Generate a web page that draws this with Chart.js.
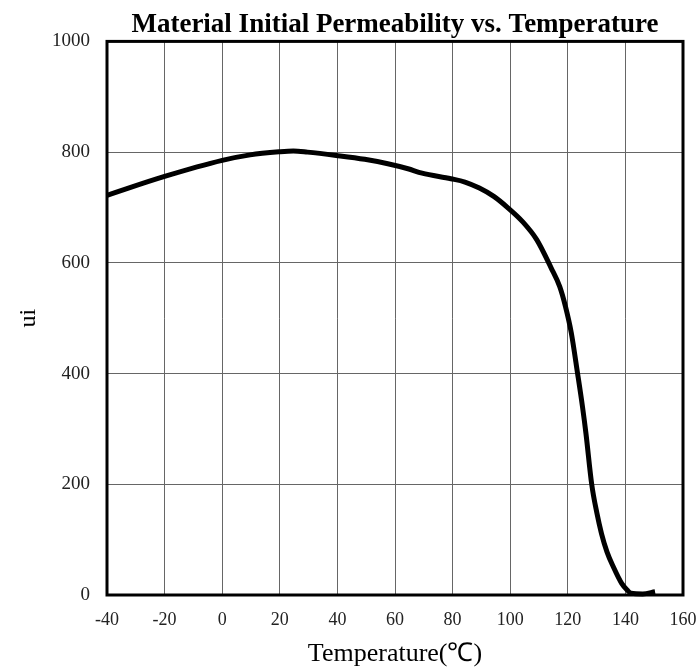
<!DOCTYPE html>
<html>
<head>
<meta charset="utf-8">
<script src="https://cdn.jsdelivr.net/npm/chart.js@4"></script>
<style>
html,body{margin:0;padding:0;background:#fff;}
#wrap{width:696px;height:670px;position:relative;}
</style>
</head>
<body>
<div id="wrap"><canvas id="c" width="696" height="670"></canvas></div>
<script>
const chartTitle = 'Material Initial Permeability vs. Temperature';
const xTitle = 'Temperature(℃)';
const yTitle = 'ui';
const temperatures = [-40,-20,0,9.7,19.7,24.7,29.6,39.6,49.5,57.5,64.5,69.4,79.4,84.3,89.3,94.3,99.3,104.2,109.2,114.2,117.2,119.2,121.2,123.4,125.1,126.3,128.3,130.1,131.7,133.6,135.8,138.7,140.6,142,146,150.3];
const permeability = [722,756,785,795,800.5,802,800,794,787,779,770,762,752,746,735,720,699,675,642,591,557,521,474,400,340,292,200,148,111,78,51,21,9,3,2,6];
const xTicks = [-40,-20,0,20,40,60,80,100,120,140,160];
const yTicks = [0,200,400,600,800,1000];

const points = temperatures.map((t,i)=>({x:t,y:permeability[i]}));

const frame = {
  id:'frame',
  beforeDraw(chart){
    const c=chart.ctx; c.save(); c.fillStyle='#fff'; c.fillRect(0,0,chart.width,chart.height); c.restore();
  },
  beforeDatasetsDraw(chart){
    const {left,right,top,bottom}=chart.chartArea;
    const c=chart.ctx; c.save(); c.strokeStyle='#000'; c.lineWidth=3;
    c.strokeRect(left,top,right-left,bottom-top); c.restore();
  }
};

new Chart(document.getElementById('c'),{
  type:'line',
  data:{datasets:[{data:points,borderColor:'#000',borderWidth:5,pointRadius:0,cubicInterpolationMode:'monotone',fill:false,clip:false}]},
  options:{
    responsive:false,animation:false,
    layout:{padding:{left:0,right:13,top:0,bottom:0}},
    plugins:{
      legend:{display:false},tooltip:{enabled:false},
      title:{display:true,text:chartTitle,fullSize:false,color:'#000',
        font:{family:'Liberation Serif',size:27,weight:'bold',lineHeight:1.2},
        padding:{top:9,bottom:0}}
    },
    scales:{
      x:{type:'linear',min:-40,max:160,
        afterBuildTicks(s){s.ticks=xTicks.map(v=>({value:v}));},
        afterFit(s){s.height=75;s.paddingLeft=0;s.paddingRight=0;},
        grid:{color:'#666',lineWidth:1,drawTicks:false},
        border:{display:false},
        ticks:{color:'#222',padding:14,font:{family:'Liberation Serif',size:18},maxRotation:0,autoSkip:false,callback:v=>String(v)},
        title:{display:true,text:xTitle,color:'#000',font:{family:'Liberation Serif',size:26},padding:{top:0,bottom:0}}
      },
      y:{type:'linear',min:0,max:1000,
        afterBuildTicks(s){s.ticks=yTicks.map(v=>({value:v}));},
        afterFit(s){s.width=107;s.paddingTop=0;s.paddingBottom=0;},
        grid:{color:'#666',lineWidth:1,drawTicks:false},
        border:{display:false},
        ticks:{color:'#222',padding:17,font:{family:'Liberation Serif',size:19},callback:v=>String(v)},
        title:{display:true,text:yTitle,color:'#000',font:{family:'Liberation Serif',size:24},padding:{top:14,bottom:0}}
      }
    }
  },
  plugins:[frame]
});
</script>
</body>
</html>
